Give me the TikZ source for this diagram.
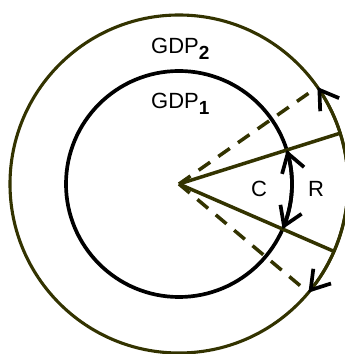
\documentclass[tikz,border=0pt]{standalone}
\usepackage{fontspec}
\setmainfont{Liberation Sans}
\usetikzlibrary{arrows.meta, bending}
\definecolor{darkolive}{RGB}{51,51,0}
\newcommand{\gdpsub}[1]{\raisebox{-6pt}{\fontsize{19}{19}\selectfont\bfseries #1}}

\begin{document}
\begin{tikzpicture}[
  x=1pt, y=1pt,
  ring/.style={draw=black, line width=3.7pt},
  outerring/.style={draw=darkolive, line width=3.1pt},
  ray/.style={draw=darkolive, line width=3.5pt},
  dashray/.style={ray, dash pattern=on 14pt off 10pt},
  arcarr/.style={{Straight Barb[length=18pt, width=23pt, line width=3.7pt, color=black, flex]}-{Straight Barb[length=18pt, width=23pt, line width=3.7pt, color=black, flex]}},
  lbl/.style={font=\fontsize{22}{22}\selectfont, inner sep=0pt, anchor=base west}
]
\useasboundingbox (0,0) rectangle (345,354);
\coordinate (O) at (179,170);
\path (O) ++(17.5:169) coordinate (solidup)
      (O) ++(-23.5:169) coordinate (soliddn)
      (O) ++(35:169) coordinate (dashup)
      (O) ++(-40:169) coordinate (dashdn)
      (O) ++(-23.5:113) coordinate (cdn);
% the two circles
\draw[outerring] (O) circle[radius=169];
\draw[ring] (O) circle[radius=113];
% rays from the centre
\draw[dashray] (O) -- (dashup);
\draw[dashray] (O) -- (dashdn);
\draw[ray] (O) -- (solidup);
\draw[ray] (O) -- (soliddn);
% arcs C and R
\draw[ring, arcarr] (cdn) arc[start angle=-23.5, end angle=17.5, radius=113];
\draw[outerring, arcarr] (dashdn) arc[start angle=-40, end angle=35, radius=169];
\node[lbl] (gdp2) at (151,300) {GDP\gdpsub{2}};
\node[lbl] (gdp1) at (151,245) {GDP\gdpsub{1}};
\node[lbl] (clbl) at (251,157) {C};
\node[lbl] (rlbl) at (308,157) {R};
\end{tikzpicture}
\end{document}
